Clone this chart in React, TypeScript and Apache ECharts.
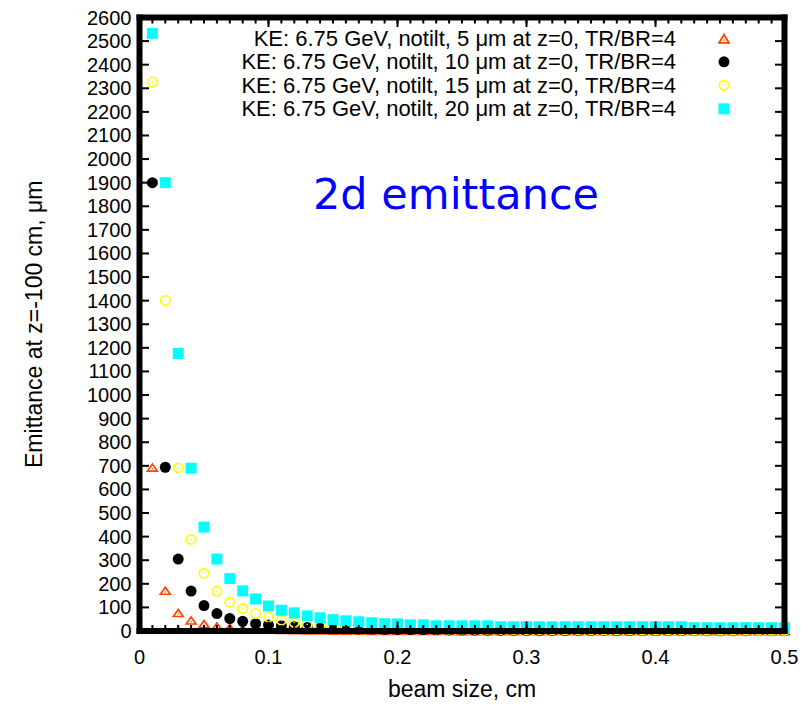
import React, { useEffect, useRef } from "react";
import * as echarts from "echarts";

const BEAM_SIZE = [
  0.01, 0.02, 0.03, 0.04, 0.05, 0.06, 0.07, 0.08, 0.09, 0.1,
  0.11, 0.12, 0.13, 0.14, 0.15, 0.16, 0.17, 0.18, 0.19, 0.2,
  0.21, 0.22, 0.23, 0.24, 0.25, 0.26, 0.27, 0.28, 0.29, 0.3,
  0.31, 0.32, 0.33, 0.34, 0.35, 0.36, 0.37, 0.38, 0.39, 0.4,
  0.41, 0.42, 0.43, 0.44, 0.45, 0.46, 0.47, 0.48, 0.49, 0.5,
];

const EMIT_5UM = [
  694, 172, 78, 46, 31, 21, 15, 10, 9, 7,
  6, 5, 4.2, 3.6, 3.1, 2.7, 2.4, 2.2, 1.9, 1.8,
  1.6, 1.4, 1.3, 1.2, 1.1, 1.0, 1.0, 0.9, 0.8, 0.8,
  0.7, 0.7, 0.6, 0.6, 0.6, 0.5, 0.5, 0.5, 0.5, 0.4,
  0.4, 0.4, 0.4, 0.4, 0.3, 0.3, 0.3, 0.3, 0.3, 0.3,
];

const EMIT_10UM = [
  1900, 694, 305, 169, 108, 74, 53, 41, 31, 25,
  22, 18, 15, 13, 11, 10, 9, 8, 7, 6.5,
  6, 5.5, 5, 4.6, 4.3, 4, 3.7, 3.5, 3.3, 3.1,
  2.9, 2.7, 2.6, 2.4, 2.3, 2.2, 2.1, 2, 1.9, 1.8,
  1.7, 1.6, 1.6, 1.5, 1.4, 1.4, 1.3, 1.3, 1.2, 1.2,
];

const EMIT_15UM = [
  2327, 1401, 691, 388, 245, 168, 122, 94, 74, 59,
  46, 36, 28, 22, 20, 18, 16, 14, 13, 12,
  11, 10, 9, 8.5, 8, 7.5, 7, 6.5, 6, 5.7,
  5.4, 5.1, 4.8, 4.6, 4.4, 4.2, 4, 3.8, 3.7, 3.5,
  3.4, 3.3, 3.1, 3, 2.9, 2.8, 2.7, 2.6, 2.5, 2.5,
];

const EMIT_20UM = [
  2533, 1900, 1176, 690, 440, 305, 222, 170, 136, 106,
  88, 77, 64, 56, 48, 43, 39, 35, 31, 30,
  26, 26, 22, 22, 22, 22, 22, 18, 18, 18,
  18, 18, 18, 18, 18, 18, 18, 18, 18, 18,
  18, 18, 14, 14, 14, 14, 14, 14, 14, 14,
];

const SERIES_NAMES = [
  "KE: 6.75 GeV, notilt, 5 \u03bcm at z=0, TR/BR=4",
  "KE: 6.75 GeV, notilt, 10 \u03bcm at z=0, TR/BR=4",
  "KE: 6.75 GeV, notilt, 15 \u03bcm at z=0, TR/BR=4",
  "KE: 6.75 GeV, notilt, 20 \u03bcm at z=0, TR/BR=4",
];

const X_MAJOR_TICKS = [0, 0.1, 0.2, 0.3, 0.4, 0.5];
const X_MINOR_TICKS = BEAM_SIZE;
const Y_TICKS = [
  0, 100, 200, 300, 400, 500, 600, 700, 800, 900, 1000, 1100, 1200, 1300,
  1400, 1500, 1600, 1700, 1800, 1900, 2000, 2100, 2200, 2300, 2400, 2500, 2600,
];

const TITLE_TEXT = "2d emittance";
const X_NAME = "beam size, cm";
const Y_NAME = "Emittance at z=-100 cm, \u03bcm";

const FONT = "'Liberation Sans', Arial, Helvetica, sans-serif";
const TICK_FS = 20;
const TEXT_FS = 23;
const LEGEND_FS = 22;

const TRIANGLE =
  "path://M0,-6L6.5,5L-6.5,5Z M0,-2.46L-3.35,3.2L3.35,3.2Z M-0.8,1.29A0.8,0.8 0 1,0 0.8,1.29A0.8,0.8 0 1,0 -0.8,1.29Z";
const RING =
  "path://M0,-5.5A5.5,5.5 0 1,1 0,5.5A5.5,5.5 0 1,1 0,-5.5Z M0,-3.8A3.8,3.8 0 1,0 0,3.8A3.8,3.8 0 1,0 0,-3.8Z M0,-0.8A0.8,0.8 0 1,1 0,0.8A0.8,0.8 0 1,1 0,-0.8Z";
const DISC =
  "path://M0,-5.5A5.5,5.5 0 1,1 0,5.5A5.5,5.5 0 1,1 0,-5.5Z";
const SQUARE = "path://M0,0L10,0L10,10L0,10Z";

function pairs(ys: number[]) {
  return BEAM_SIZE.map((x, i) => [x, ys[i]]);
}

export default function App() {
  const ref = useRef<HTMLDivElement>(null);
  useEffect(() => {
    const chart = echarts.init(ref.current!, null, { renderer: "svg" });
    const tickLabel = { color: "#000", fontSize: TICK_FS, fontFamily: FONT };
    const nameStyle = { color: "#000", fontSize: TEXT_FS, fontFamily: FONT };
    const xFmt = (v: number) => (v === 0 ? "0" : String(+v.toFixed(1)));
    const yFmt = (v: number) => String(Math.round(v));

    const specs = [
      { data: EMIT_5UM, symbol: TRIANGLE, size: [13, 11], color: "#ff4500" },
      { data: EMIT_10UM, symbol: DISC, size: 11, color: "#000000" },
      { data: EMIT_15UM, symbol: RING, size: 11, color: "#ffff00" },
      { data: EMIT_20UM, symbol: SQUARE, size: 11, color: "#00ffff" },
    ];

    const FRAME_W = 6;
    const MAJOR_LEN = 9.5;
    const MINOR_LEN = 6;
    const TICK_W = 2;

    const frameRenderer = (_params: any, api: any) => {
      const p0 = api.coord([0, 0]);
      const p1 = api.coord([0.5, 2600]);
      const x0 = p0[0], y0 = p0[1], x1 = p1[0], y1 = p1[1];
      const h = FRAME_W / 2;
      const r = (x: number, y: number, w: number, hh: number) => ({
        type: "rect",
        shape: { x, y, width: w, height: hh },
        style: { fill: "#000000" },
      });
      const children: any[] = [];
      X_MAJOR_TICKS.forEach((v) => {
        const x = api.coord([v, 0])[0];
        children.push(r(x - TICK_W / 2, y0 - MAJOR_LEN, TICK_W, MAJOR_LEN));
        children.push(r(x - TICK_W / 2, y1, TICK_W, MAJOR_LEN));
      });
      X_MINOR_TICKS.forEach((v) => {
        const x = api.coord([v, 0])[0];
        children.push(r(x - TICK_W / 2, y0 - MINOR_LEN, TICK_W, MINOR_LEN));
        children.push(r(x - TICK_W / 2, y1, TICK_W, MINOR_LEN));
      });
      Y_TICKS.forEach((v) => {
        const y = api.coord([0, v])[1];
        children.push(r(x0, y - TICK_W / 2, MAJOR_LEN, TICK_W));
        children.push(r(x1 - MAJOR_LEN, y - TICK_W / 2, MAJOR_LEN, TICK_W));
      });
      children.push(r(x0 - h, y1 - h, x1 - x0 + FRAME_W, FRAME_W));
      children.push(r(x0 - h, y0 - h, x1 - x0 + FRAME_W, FRAME_W));
      children.push(r(x0 - h, y1 - h, FRAME_W, y0 - y1 + FRAME_W));
      children.push(r(x1 - h, y1 - h, FRAME_W, y0 - y1 + FRAME_W));
      return { type: "group", children };
    };

    chart.setOption({
      animation: false,
      backgroundColor: "#ffffff",
      textStyle: { fontFamily: FONT },
      title: {
        text: TITLE_TEXT,
        left: 308,
        top: 167,
        textStyle: {
          color: "#0000ff",
          fontSize: 43,
          fontWeight: "normal",
          fontFamily: "'Comic Sans MS', 'DejaVu Sans', sans-serif",
        },
      },
      legend: {
        orient: "vertical",
        align: "right",
        right: 79.5,
        top: 27.3,
        padding: 0,
        itemGap: 1.5,
        itemWidth: 86,
        itemHeight: 11,
        textStyle: { color: "#000", fontSize: LEGEND_FS, fontFamily: FONT },
        data: SERIES_NAMES,
      },
      grid: {
        left: 139.5,
        right: 25.5,
        top: 17.5,
        bottom: 72.5,
        containLabel: false,
        show: false,
      },
      xAxis: [
        {
          type: "value",
          position: "bottom",
          min: 0,
          max: 0.5,
          interval: 0.1,
          axisLine: { show: false },
          axisTick: { show: false },
          splitLine: { show: false },
          axisLabel: { ...tickLabel, margin: 16, formatter: xFmt },
          name: X_NAME,
          nameLocation: "middle",
          nameGap: 46,
          nameTextStyle: { ...nameStyle },
        },
      ],
      yAxis: [
        {
          type: "value",
          position: "left",
          min: 0,
          max: 2600,
          interval: 100,
          axisLine: { show: false },
          axisTick: { show: false },
          splitLine: { show: false },
          axisLabel: { ...tickLabel, margin: 8, formatter: yFmt },
          name: Y_NAME,
          nameLocation: "middle",
          nameGap: 94,
          nameTextStyle: { ...nameStyle },
        },
      ],
      series: [
        ...specs.map((s, i) => ({
          type: "scatter",
          name: SERIES_NAMES[i],
          xAxisIndex: 0,
          yAxisIndex: 0,
          clip: false,
          symbol: s.symbol,
          symbolSize: s.size,
          symbolKeepAspect: true,
          itemStyle: { color: s.color, opacity: 1, borderWidth: 0 },
          emphasis: { disabled: true },
          data: pairs(s.data),
        })),
        {
          type: "custom",
          name: "frame",
          xAxisIndex: 0,
          yAxisIndex: 0,
          z: 10,
          silent: true,
          clip: false,
          renderItem: frameRenderer,
          data: [[0, 0]],
        },
      ],
    });
    return () => chart.dispose();
  }, []);
  return (
    <div
      ref={ref}
      style={{ position: "absolute", left: 0, top: 0, width: 810, height: 705 }}
    />
  );
}
